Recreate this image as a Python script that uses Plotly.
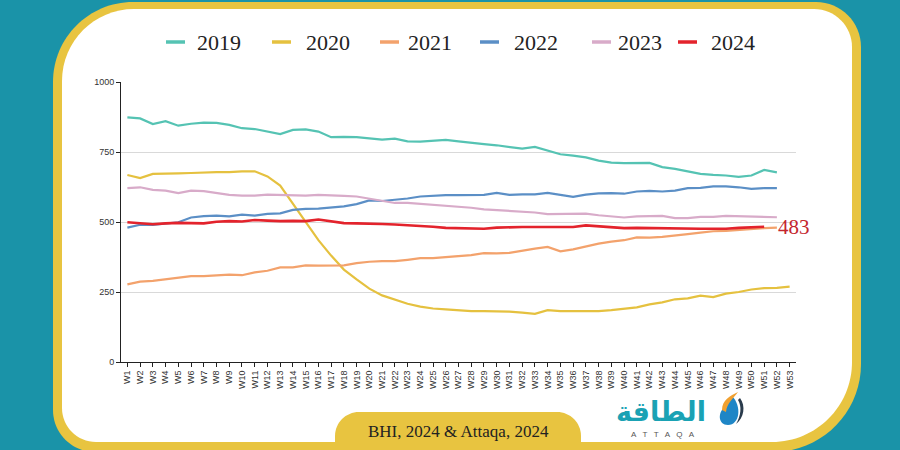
import plotly.graph_objects as go

weeks = [f"W{i}" for i in range(1, 54)]
years = ["2019", "2020", "2021", "2022", "2023", "2024"]
colors = ["#55c3b3", "#e5c13f", "#f3a26c", "#5b8fc6", "#d8abc9", "#e3232c"]

v2019 = [874, 870, 850, 860, 844, 851, 855, 854, 847, 835, 832, 823, 814, 829, 831, 823, 803, 804,
         803, 799, 794, 798, 788, 787, 789, 793, 788, 782, 778, 774, 768, 762, 768, 755, 742, 737,
         731, 719, 712, 710, 711, 711, 696, 690, 681, 672, 668, 666, 661, 666, 686, 677]
v2020 = [668, 657, 672, 674, 674, 675, 677, 678, 678, 681, 681, 663, 630, 565, 500, 435, 380, 330,
         295, 262, 238, 222, 208, 198, 191, 188, 185, 182, 182, 182, 180, 176, 172, 185, 182, 182,
         182, 182, 185, 191, 195, 206, 213, 224, 227, 237, 232, 244, 250, 259, 264, 265, 269]
v2021 = [277, 287, 290, 296, 301, 307, 307, 309, 312, 310, 320, 326, 338, 338, 345, 344, 344, 345,
         353, 358, 360, 360, 365, 371, 371, 375, 377, 382, 389, 388, 390, 398, 405, 411, 395, 402,
         413, 423, 430, 435, 445, 444, 447, 453, 457, 462, 467, 468, 472, 476, 478, 480]
v2022 = [480, 490, 490, 495, 499, 516, 521, 523, 520, 526, 523, 529, 531, 543, 547, 548, 551, 556,
         564, 577, 575, 579, 584, 591, 594, 596, 596, 596, 597, 604, 597, 599, 599, 604, 596, 590,
         598, 602, 603, 601, 609, 611, 609, 612, 621, 622, 627, 627, 624, 618, 621, 621]
v2023 = [621, 624, 615, 612, 603, 612, 610, 604, 597, 594, 594, 598, 597, 596, 594, 597, 596, 593,
         591, 583, 577, 568, 568, 565, 561, 559, 555, 551, 545, 542, 539, 537, 534, 528, 528, 529,
         530, 524, 520, 516, 520, 521, 522, 514, 514, 518, 518, 522, 521, 518, 517, 517]
v2024 = [499, 496, 492, 495, 497, 496, 495, 501, 503, 502, 507, 505, 503, 504, 503, 509, 503, 496,
         495, 495, 493, 491, 489, 485, 483, 479, 478, 477, 476, 480, 482, 482, 482, 482, 482, 482,
         488, 485, 482, 478, 479, 478, 478, 477, 476, 476, 476, 476, 479, 480, 483]
series = [v2019, v2020, v2021, v2022, v2023, v2024]
y_ticks = [0, 250, 500, 750, 1000]
last_label = "483"
source_text = "BHI, 2024 & Attaqa, 2024"

TEAL = "#1a93a8"
YELLOW = "#e8c440"

# plot area in pixels
L, R, T, B = 121, 796, 82, 362
W, H = R - L, B - T


def px(x):
    return (x - L) / W


def py(y):
    return (B - y) / H


def pt(x, y):
    return f"{px(x):.5f},{py(y):.5f}"


def rrect(x0, y0, x1, y1, rtl, rtr, rbr, rbl):
    k = 0.5523
    p = f"M {pt(x0 + rtl, y0)} L {pt(x1 - rtr, y0)} "
    p += f"C {pt(x1 - rtr + k * rtr, y0)} {pt(x1, y0 + rtr - k * rtr)} {pt(x1, y0 + rtr)} "
    p += f"L {pt(x1, y1 - rbr)} "
    if rbr:
        p += f"C {pt(x1, y1 - rbr + k * rbr)} {pt(x1 - rbr + k * rbr, y1)} {pt(x1 - rbr, y1)} "
    p += f"L {pt(x0 + rbl, y1)} "
    if rbl:
        p += f"C {pt(x0 + rbl - k * rbl, y1)} {pt(x0, y1 - rbl + k * rbl)} {pt(x0, y1 - rbl)} "
    p += f"L {pt(x0, y0 + rtl)} "
    p += f"C {pt(x0, y0 + rtl - k * rtl)} {pt(x0 + rtl - k * rtl, y0)} {pt(x0 + rtl, y0)} Z"
    return p


fig = go.Figure()
for name, vals, col in zip(years, series, colors):
    w = 2.6 if name == "2024" else 2.2
    fig.add_trace(go.Scatter(x=weeks[:len(vals)], y=vals, mode="lines", name=name,
                             line=dict(color=col, width=w), showlegend=False))

shapes = [
    dict(type="path", xref="paper", yref="paper", layer="below",
         path=rrect(53, 2, 861, 452, 80, 45, 88, 42), fillcolor=YELLOW, line=dict(width=0)),
    dict(type="path", xref="paper", yref="paper", layer="below",
         path=rrect(62, 9, 852, 442, 72, 38, 80, 34), fillcolor="white", line=dict(width=0)),
    dict(type="path", xref="paper", yref="paper", layer="below",
         path=rrect(335, 412, 581, 446, 24, 24, 0, 0), fillcolor=YELLOW, line=dict(width=0)),
]

annotations = []
# manual legend
leg_line_x = [166, 272, 380, 480, 592, 678]
leg_text_x = [195, 304, 406, 512, 616, 709]
for name, col, lx, tx in zip(years, colors, leg_line_x, leg_text_x):
    shapes.append(dict(type="line", xref="paper", yref="paper", x0=px(lx), x1=px(lx + 19),
                       y0=py(42), y1=py(42), line=dict(color=col, width=3.5)))
    annotations.append(dict(text=name, xref="paper", yref="paper", x=px(tx), y=py(42),
                            xanchor="left", yanchor="middle", showarrow=False,
                            font=dict(family="Liberation Serif", size=22, color="#222")))

# end label
annotations.append(dict(text=last_label, x=weeks[len(v2024) - 1], y=v2024[-1], xref="x", yref="y",
                        xanchor="left", yanchor="middle", xshift=12, showarrow=False,
                        font=dict(family="Liberation Serif", size=21, color="#c4262e")))
# source
annotations.append(dict(text=source_text, xref="paper", yref="paper", x=px(458), y=py(431),
                        xanchor="center", yanchor="middle", showarrow=False,
                        font=dict(family="Liberation Serif", size=17, color="#222")))
# logo
annotations.append(dict(text="<b>الطاقة</b>", xref="paper", yref="paper", x=px(661), y=py(411),
                        xanchor="center", yanchor="middle", showarrow=False,
                        font=dict(family="DejaVu Sans", size=27, color="#1aa2b4")))
annotations.append(dict(text="A   T   T   A   Q   A", xref="paper", yref="paper", x=px(663), y=py(434),
                        xanchor="center", yanchor="middle", showarrow=False,
                        font=dict(family="Liberation Sans", size=8, color="#555")))
# logo icon
shapes.append(dict(type="path", xref="paper", yref="paper",
                   path=f"M {pt(732, 396)} C {pt(742, 406)} {pt(740, 425)} {pt(728, 425)} "
                        f"C {pt(718, 425)} {pt(717, 412)} {pt(726, 406)} Z",
                   fillcolor="#1f86c6", line=dict(width=0)))
shapes.append(dict(type="path", xref="paper", yref="paper",
                   path=f"M {pt(722, 410)} C {pt(722, 400)} {pt(730, 396)} {pt(738, 392)} "
                        f"C {pt(733, 399)} {pt(727, 403)} {pt(726, 412)} Z",
                   fillcolor="#f0a030", line=dict(width=0)))
shapes.append(dict(type="path", xref="paper", yref="paper",
                   path=f"M {pt(740, 398)} C {pt(746, 406)} {pt(744, 418)} {pt(736, 424)} "
                        f"C {pt(741, 416)} {pt(742, 406)} {pt(738, 400)} Z",
                   fillcolor="#2a3b4c", line=dict(width=0)))

fig.update_layout(
    width=900, height=450,
    margin=dict(l=L, r=900 - R, t=T, b=450 - B, autoexpand=False),
    paper_bgcolor=TEAL, plot_bgcolor="rgba(0,0,0,0)",
    shapes=shapes, annotations=annotations, showlegend=False,
    xaxis=dict(type="category", categoryorder="array", categoryarray=weeks, tickvals=weeks,
               range=[-0.5, 52.5], tickangle=-90, showgrid=False, showline=True, linecolor="#222",
               linewidth=1, ticks="outside", ticklen=4, tickcolor="#222", automargin=False,
               tickfont=dict(family="Liberation Sans", size=9, color="#333")),
    yaxis=dict(range=[0, 1000], tickvals=y_ticks, showgrid=True, gridcolor="#d9d9d9", gridwidth=1,
               showline=True, linecolor="#222", linewidth=1, ticks="outside", ticklen=4,
               tickcolor="#222", zeroline=False, automargin=False,
               tickfont=dict(family="Liberation Sans", size=9, color="#333")),
)

fig.write_html("out.html", config={"displayModeBar": False},
               post_script="document.body.style.margin='0';document.body.style.padding='0';"
                           "document.body.style.background='" + TEAL + "';")
